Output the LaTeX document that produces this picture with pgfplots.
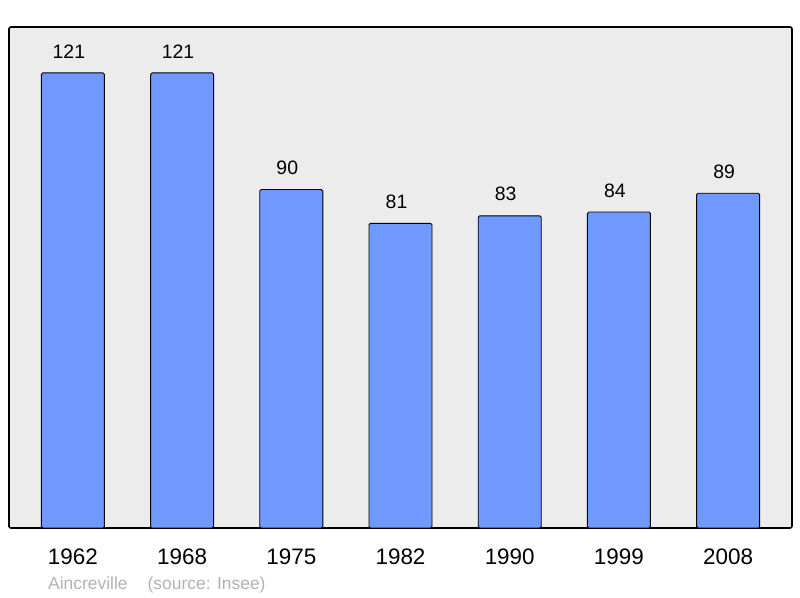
\documentclass[border=0pt]{standalone}
\usepackage{pgfplots}
\pgfplotsset{compat=1.18}
\usepackage{fontspec}
\setmainfont{Liberation Sans}
\definecolor{barblue}{HTML}{7099FF}
\definecolor{bggray}{HTML}{ECECEC}
\begin{document}
\begin{tikzpicture}[x=1bp,y=1bp]
\useasboundingbox (0,0) rectangle (800,598);
\begin{axis}[
  at={(9bp,70bp)}, anchor=south west,
  scale only axis, width=783bp, height=501bp,
  xmin=-0.585, xmax=6.585, ymin=0, ymax=133.2,
  axis background/.style={fill=bggray},
  axis line style={black, line width=1.6pt, rounded corners=2pt},
  ytick=\empty,
  xtick=data,
  xticklabels={1962,1968,1975,1982,1990,1999,2008},
  major tick length=0pt,
  xticklabel style={font=\fontsize{22.5}{26}\selectfont, yshift=-17bp},
  /pgf/number format/assume math mode=true,
  nodes near coords,
  every node near coord/.append style={font=\fontsize{19.5}{22}\selectfont, black, yshift=11bp, xshift=-4bp},
  clip=false,
]
\addplot[ybar, bar width=63bp, fill=barblue, draw=black, line width=0.9pt, rounded corners=1.5pt]
coordinates {(0,121) (1,121) (2,90) (3,81) (4,83) (5,84) (6,89)};
\end{axis}
\node[anchor=west, inner sep=0pt, text=black!30, font=\fontsize{17.5}{20}\selectfont] at (48,13) {Aincreville\hspace{20bp}(source: Insee)};
\end{tikzpicture}
\end{document}
